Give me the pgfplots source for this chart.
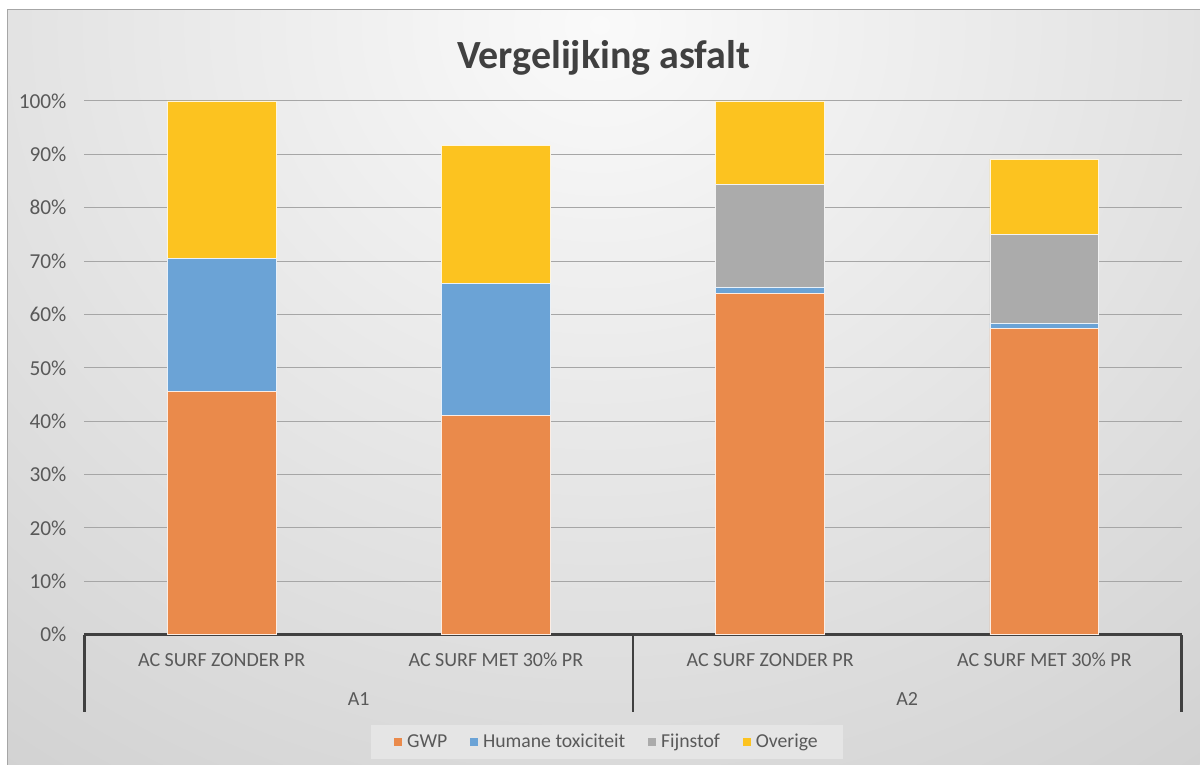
\documentclass[border=0pt]{standalone}
\usepackage{fontspec}
\setmainfont{Carlito}
\usepackage{pgfplots}
\usepackage{pgfplotstable}
\pgfplotsset{compat=1.18}
\definecolor{cGWP}{HTML}{EA8A4B}
\definecolor{cHum}{HTML}{6BA3D6}
\definecolor{cFijn}{HTML}{ABABAB}
\definecolor{cOv}{HTML}{FCC320}
\definecolor{txt}{HTML}{595959}
\definecolor{axl}{HTML}{404040}

\pgfplotstableread{
x gwp hum fijn ov
0 45.6 24.9 0 29.5
1 41.1 24.7 0 25.9
2 64.0 1.0 19.3 15.7
3 57.4 1.0 16.6 14.1
}\datatable

\begin{document}
\begin{tikzpicture}
\begin{scope}[x=0.75pt,y=0.75pt]
\fill[white] (0,0) rectangle (1200,765);
\begin{scope}
\clip (8,0) rectangle (1200,755);
\fill[black!19] (8,0) rectangle (1200,755);
\shade[inner color=black!2, outer color=black!19] (600,740) ellipse (1100 and 1000);
\end{scope}
\draw[black!35, line width=0.75pt] (8,0) -- (8,755) -- (1200,755);
\node[font=\fontsize{30}{36}\selectfont\bfseries, text=axl] at (604,707) {Vergelijking asfalt};
\end{scope}
\begin{axis}[
  at={(63.375pt,97.5pt)}, anchor=south west,
  scale only axis, width=823.125pt, height=400.5pt,
  clip=false,
  xmin=-0.5, xmax=3.5, ymin=0, ymax=100,
  ybar stacked, bar width=81.75pt,
  axis x line=bottom, axis y line=left,
  axis line style={-},
  x axis line style={axl, line width=2pt},
  y axis line style={draw=none},
  xtick={-0.5,1.5,3.5},
  xticklabels={},
  xtick style={draw=axl, line width=2pt},
  xtick align=outside,
  ytick align=inside,
  major tick length=57.75pt,
  extra x ticks={0,1,2,3},
  extra x tick labels={AC SURF ZONDER PR, AC SURF MET 30\% PR, AC SURF ZONDER PR, AC SURF MET 30\% PR},
  extra x tick style={major tick length=0pt, tick style={draw=none}},
  xticklabel style={font=\fontsize{15}{18}\selectfont, text=txt, anchor=base, yshift=-24pt},
  ytick={0,10,...,100},
  yticklabel={\pgfmathprintnumber{\tick}\%},
  yticklabel style={font=\fontsize{16}{19}\selectfont, text=txt, xshift=-10pt, /pgf/number format/assume math mode=true},
  ytick style={draw=none},
  ymajorgrids, major grid style={black!35, line width=0.75pt},
  legend style={at={(0.4765,-0.2008)}, anchor=center, legend columns=-1, draw=none, fill=black!10, inner xsep=17pt, inner ysep=5pt, font=\fontsize{14.8}{17}\selectfont, text=txt, /tikz/every odd column/.append style={column sep=2pt}, /tikz/every even column/.append style={column sep=15pt}},
  mybar/.style={fill=#1, draw=white!85!#1, line width=0.6pt, legend image code/.code={\fill[#1] (0pt,-2.6pt) rectangle (5.25pt,2.6pt);}},
]
\addplot[mybar=cGWP] table[x=x,y=gwp] {\datatable};
\addplot[mybar=cHum] table[x=x,y=hum] {\datatable};
\addplot[mybar=cFijn] table[x=x,y=fijn] {\datatable};
\addplot[mybar=cOv] table[x=x,y=ov] {\datatable};
\legend{GWP, Humane toxiciteit, Fijnstof, Overige}
\node[anchor=base, font=\fontsize{15}{18}\selectfont, text=txt] at (axis cs:0.5,0) [yshift=-53pt] {A1};
\node[anchor=base, font=\fontsize{15}{18}\selectfont, text=txt] at (axis cs:2.5,0) [yshift=-53pt] {A2};
\end{axis}
\end{tikzpicture}
\end{document}
